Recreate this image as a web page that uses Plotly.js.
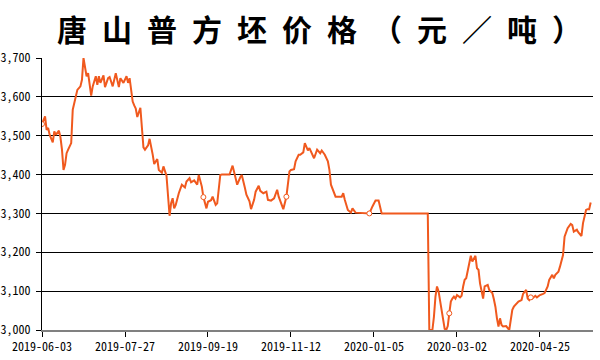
<!DOCTYPE html>
<html>
<head>
<meta charset="utf-8">
<script src="https://cdn.plot.ly/plotly-3.0.1.min.js"></script>
<style>html,body{margin:0;padding:0;background:#fff;}#chart{width:600px;height:360px;}</style>
</head>
<body>
<div id="chart"></div>
<script>
const titleText = '唐山普方坯价格（元／吨）';
const tickDates = ['2019-06-03','2019-07-27','2019-09-19','2019-11-12','2020-01-05','2020-03-02','2020-04-25'];
const yTicks = [3000,3100,3200,3300,3400,3500,3600,3700];
const holidayGap = ['2020-01-24','2020-01-25','2020-01-26'];
const dates = [
'2019-06-03','2019-06-05','2019-06-06','2019-06-07','2019-06-08','2019-06-10','2019-06-11','2019-06-12','2019-06-14','2019-06-15',
'2019-06-16','2019-06-17','2019-06-18','2019-06-19','2019-06-20','2019-06-22','2019-06-23','2019-06-25','2019-06-26','2019-06-28',
'2019-06-29','2019-06-30','2019-07-02','2019-07-03','2019-07-04','2019-07-05','2019-07-06','2019-07-08','2019-07-09','2019-07-10',
'2019-07-11','2019-07-13','2019-07-14','2019-07-16','2019-07-17','2019-07-19','2019-07-21','2019-07-23','2019-07-24','2019-07-26',
'2019-07-28','2019-07-29','2019-07-30','2019-08-01','2019-08-02','2019-08-03','2019-08-04','2019-08-06','2019-08-08','2019-08-09',
'2019-08-11','2019-08-12','2019-08-14','2019-08-15','2019-08-17','2019-08-18','2019-08-20','2019-08-21','2019-08-23','2019-08-24',
'2019-08-25','2019-08-26','2019-08-27','2019-08-28','2019-08-29','2019-08-31','2019-09-02','2019-09-04','2019-09-05','2019-09-07',
'2019-09-08','2019-09-10','2019-09-12','2019-09-13','2019-09-15','2019-09-16','2019-09-18','2019-09-19','2019-09-21','2019-09-22',
'2019-09-24','2019-09-25','2019-09-27','2019-09-28','2019-10-03','2019-10-05','2019-10-07','2019-10-08','2019-10-10','2019-10-11',
'2019-10-13','2019-10-14','2019-10-16','2019-10-17','2019-10-19','2019-10-20','2019-10-22','2019-10-23','2019-10-25','2019-10-27',
'2019-10-28','2019-10-30','2019-11-01','2019-11-03','2019-11-04','2019-11-06','2019-11-07','2019-11-09','2019-11-11','2019-11-12',
'2019-11-14','2019-11-15','2019-11-17','2019-11-18','2019-11-20','2019-11-21','2019-11-23','2019-11-24','2019-11-26','2019-11-27',
'2019-11-29','2019-12-01','2019-12-02','2019-12-04','2019-12-06','2019-12-07','2019-12-08','2019-12-10','2019-12-11','2019-12-15',
'2019-12-16','2019-12-17','2019-12-19','2019-12-21','2019-12-22','2019-12-24','2020-01-02','2020-01-04','2020-01-06','2020-01-08',
'2020-01-10','2020-02-12','2020-02-13','2020-02-15','2020-02-16','2020-02-17','2020-02-18','2020-02-19','2020-02-20','2020-02-21',
'2020-02-22','2020-02-23','2020-02-24','2020-02-25','2020-02-26','2020-02-27','2020-02-28','2020-02-29','2020-03-01','2020-03-02',
'2020-03-04','2020-03-05','2020-03-06','2020-03-07','2020-03-08','2020-03-10','2020-03-11','2020-03-12','2020-03-14','2020-03-15',
'2020-03-16','2020-03-17','2020-03-18','2020-03-19','2020-03-20','2020-03-22','2020-03-23','2020-03-25','2020-03-26','2020-03-27',
'2020-03-28','2020-03-29','2020-03-30','2020-03-31','2020-04-01','2020-04-03','2020-04-05','2020-04-06','2020-04-07','2020-04-08',
'2020-04-10','2020-04-11','2020-04-13','2020-04-14','2020-04-16','2020-04-17','2020-04-18','2020-04-19','2020-04-20','2020-04-22',
'2020-04-23','2020-04-25','2020-04-27','2020-04-28','2020-04-30','2020-05-01','2020-05-03','2020-05-04','2020-05-05','2020-05-07',
'2020-05-08','2020-05-10','2020-05-11','2020-05-12','2020-05-13','2020-05-15','2020-05-16','2020-05-17','2020-05-19','2020-05-20',
'2020-05-22','2020-05-23','2020-05-24','2020-05-25','2020-05-26','2020-05-27','2020-05-28'
];
const prices = [
3530,3550,3515,3520,3502,3483,3511,3502,3513,3496,
3464,3412,3425,3455,3464,3481,3567,3597,3618,3627,
3644,3700,3653,3661,3636,3603,3627,3653,3631,3653,
3636,3655,3625,3648,3651,3627,3661,3625,3648,3636,
3653,3636,3648,3588,3578,3570,3548,3572,3470,3464,
3475,3492,3452,3427,3440,3412,3405,3421,3397,3335,
3294,3326,3339,3313,3322,3352,3374,3367,3382,3391,
3380,3385,3374,3399,3369,3342,3313,3330,3334,3343,
3322,3326,3399,3400,3400,3423,3386,3374,3393,3399,
3366,3348,3331,3311,3335,3356,3371,3358,3352,3356,
3335,3333,3339,3361,3343,3322,3311,3343,3408,3412,
3414,3434,3451,3451,3457,3481,3462,3468,3451,3442,
3464,3455,3462,3451,3434,3412,3374,3352,3343,3343,
3352,3335,3309,3302,3313,3302,3300,3318,3333,3333,
3300,3300,3000,3000,3034,3086,3112,3100,3077,3051,
3021,3003,3000,3010,3043,3073,3081,3086,3081,3090,
3084,3088,3112,3129,3133,3167,3191,3176,3191,3159,
3155,3120,3095,3081,3112,3116,3103,3095,3079,3060,
3030,3009,3030,3013,3009,3010,3000,3026,3052,3060,
3069,3073,3077,3093,3103,3081,3077,3084,3081,3088,
3084,3090,3093,3095,3112,3129,3142,3133,3142,3150,
3163,3193,3240,3249,3262,3273,3270,3253,3258,3251,
3242,3275,3292,3309,3311,3311,3328
];
const markerDates = ['2019-06-03','2019-09-16','2019-11-09','2020-01-02','2020-02-26','2020-04-19'];
const markerVals = markerDates.map(d => prices[dates.indexOf(d)]);

const lineColor = '#F0591E';
const tickFont = {family: '"Noto Sans Mono CJK JP", "DejaVu Sans Mono", monospace', size: 12, color: '#000'};

const traces = [
  {x: dates, y: prices, type: 'scatter', mode: 'lines',
   line: {color: lineColor, width: 2}, hoverinfo: 'skip'},
  {x: markerDates, y: markerVals, type: 'scatter', mode: 'markers',
   marker: {symbol: 'circle', size: 5, color: '#fff', line: {color: lineColor, width: 1}}, hoverinfo: 'skip'}
];

const layout = {
  width: 600, height: 360,
  margin: {l: 42, r: 7, t: 58, b: 30, pad: 0},
  paper_bgcolor: '#fff', plot_bgcolor: '#fff',
  showlegend: false,
  title: {text: titleText, x: 0.545, xref: 'container', xanchor: 'center',
          y: 0.915, yref: 'container', yanchor: 'middle',
          font: {family: '"Noto Sans CJK SC", "Noto Sans CJK JP", sans-serif', size: 30, weight: 700, color: '#000'}},
  xaxis: {
    type: 'date', range: ['2019-06-03', '2020-05-29 12:00'],
    rangebreaks: [{values: holidayGap}],
    tickvals: tickDates, tickformat: '%Y-%m-%d',
    ticks: 'outside', ticklen: 5, tickcolor: '#000', tickwidth: 1,
    showline: true, linecolor: '#808080', linewidth: 2,
    showgrid: false, zeroline: false, tickfont: tickFont
  },
  yaxis: {
    range: [3000, 3700], tickvals: yTicks, tickformat: ',d',
    ticks: 'outside', ticklen: 5, tickcolor: '#000', tickwidth: 1,
    ticklabelstandoff: 3,
    showline: true, linecolor: '#000', linewidth: 1,
    showgrid: true, gridcolor: '#000', gridwidth: 1,
    zeroline: false, tickfont: tickFont
  }
};

Plotly.newPlot('chart', traces, layout, {staticPlot: true, displayModeBar: false}).then(() => {
  const t = document.querySelector('.gtitle');
  if (t) t.style.letterSpacing = '15px';
});
</script>
</body>
</html>
